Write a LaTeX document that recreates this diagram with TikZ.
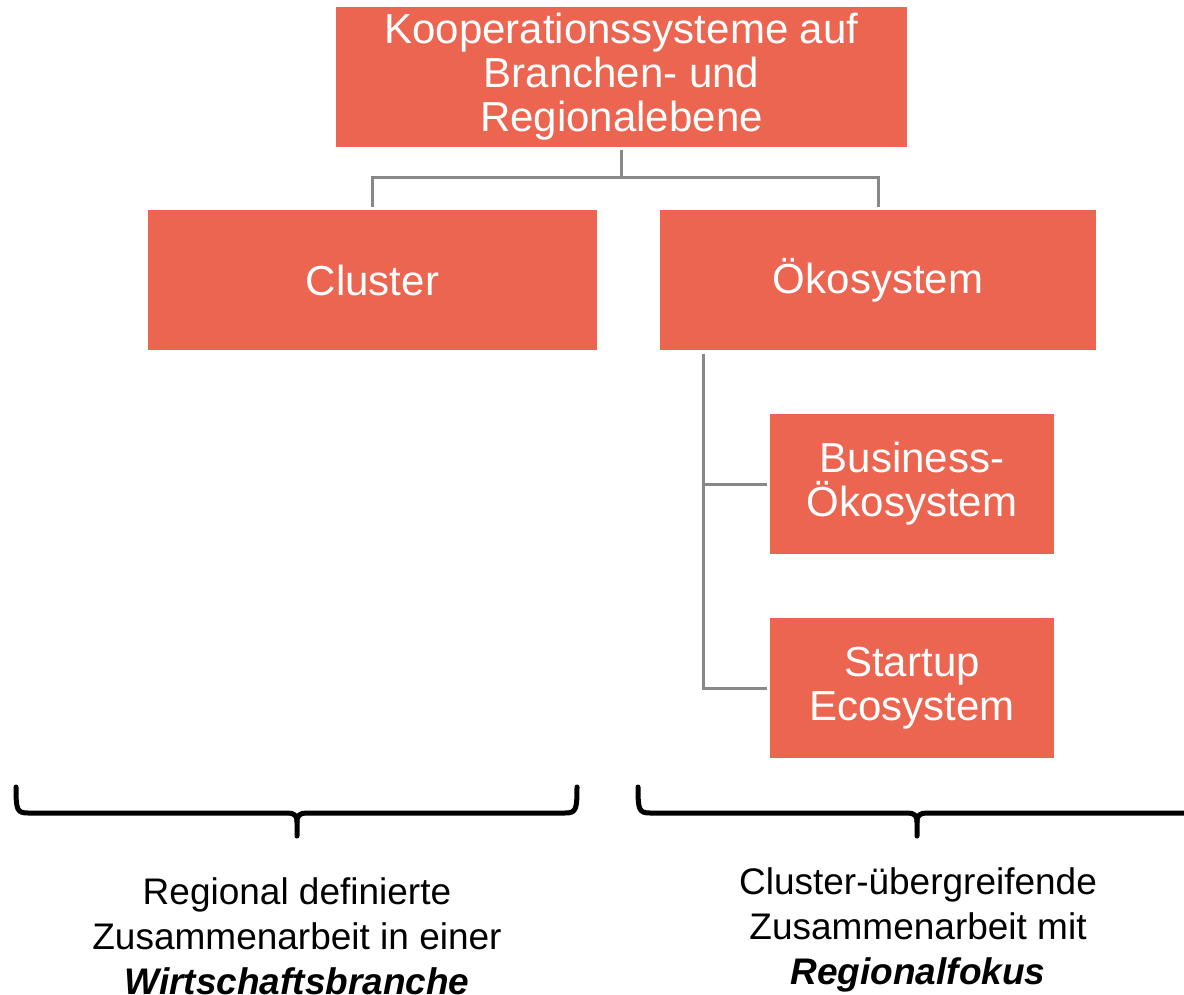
\documentclass[tikz,border=0pt]{standalone}
\usepackage{fontspec}
\setmainfont{Liberation Sans}
\definecolor{boxorange}{RGB}{235,101,80}
\definecolor{conngray}{RGB}{136,136,136}
\begin{document}
\begin{tikzpicture}[x=1pt,y=-1pt,
  box/.style={fill=boxorange, draw=none, text=white, align=center, inner sep=0pt,
    font=\fontsize{42}{44}\selectfont},
  conn/.style={draw=conngray, line width=3pt},
  brace/.style={draw=black, line width=5pt, line cap=round, line join=round},
  lbl/.style={align=center, text=black, inner sep=0pt, font=\fontsize{37}{45}\selectfont}]
\useasboundingbox (0,0) rectangle (1184,995);

% boxes
\node[box, minimum width=571pt, minimum height=140pt] (top) at (621.5,77)
  {Kooperationssysteme auf\\Branchen- und\\Regionalebene};
\node[box, minimum width=449pt, minimum height=140pt] (cluster) at (372.5,280) {Cluster};
\node[box, minimum width=436pt, minimum height=140pt] (oko) at (878,280) {Ökosystem};
\node[box, minimum width=284pt, minimum height=140pt] (business) at (912,484)
  {Business-\\Ökosystem};
\node[box, minimum width=284pt, minimum height=140pt] (startup) at (912,688)
  {Startup\\Ecosystem};

% connectors
\coordinate (mid) at (621.5,178);
\coordinate (spine) at (703,350);
\draw[conn, shorten <=3pt] (top.south) -- (mid);
\draw[conn, shorten >=3pt] (mid) -| (cluster.north);
\draw[conn, shorten >=3pt] (mid) -| (oko.north);
\draw[conn, shorten <=4pt, shorten >=3pt] (spine) |- (startup.west);
\draw[conn, shorten >=3pt] (spine |- business.west) -- (business.west);

% braces
\coordinate (lbA) at (16,787);
\coordinate (lbTip) at (297,836);
\coordinate (lbB) at (577,787);
\draw[brace] (lbA) .. controls (16,810) and (17,813) .. (28,813) -- (287,813)
  .. controls (294,813) and (297,815) .. (297,822) -- (lbTip);
\draw[brace] (lbB) .. controls (577,810) and (576,813) .. (565,813) -- (307,813)
  .. controls (300,813) and (297,815) .. (297,822);
\coordinate (rbA) at (638,787);
\coordinate (rbTip) at (917,836);
\coordinate (rbB) at (1195,813);
\draw[brace] (rbA) .. controls (638,810) and (639,813) .. (650,813) -- (907,813)
  .. controls (914,813) and (917,815) .. (917,822) -- (rbTip);
\draw[brace] (rbB) -- (927,813)
  .. controls (920,813) and (917,815) .. (917,822);

% captions
\node[lbl] (lefttxt) at (297,936)
  {Regional definierte\\Zusammenarbeit in einer\\\textbf{\textit{Wirtschaftsbranche}}};
\node[lbl] (righttxt) at (918,930)
  {Cluster-übergreifende\\Zusammenarbeit mit\\\textbf{\textit{Regionalfokus}}};
\end{tikzpicture}
\end{document}
